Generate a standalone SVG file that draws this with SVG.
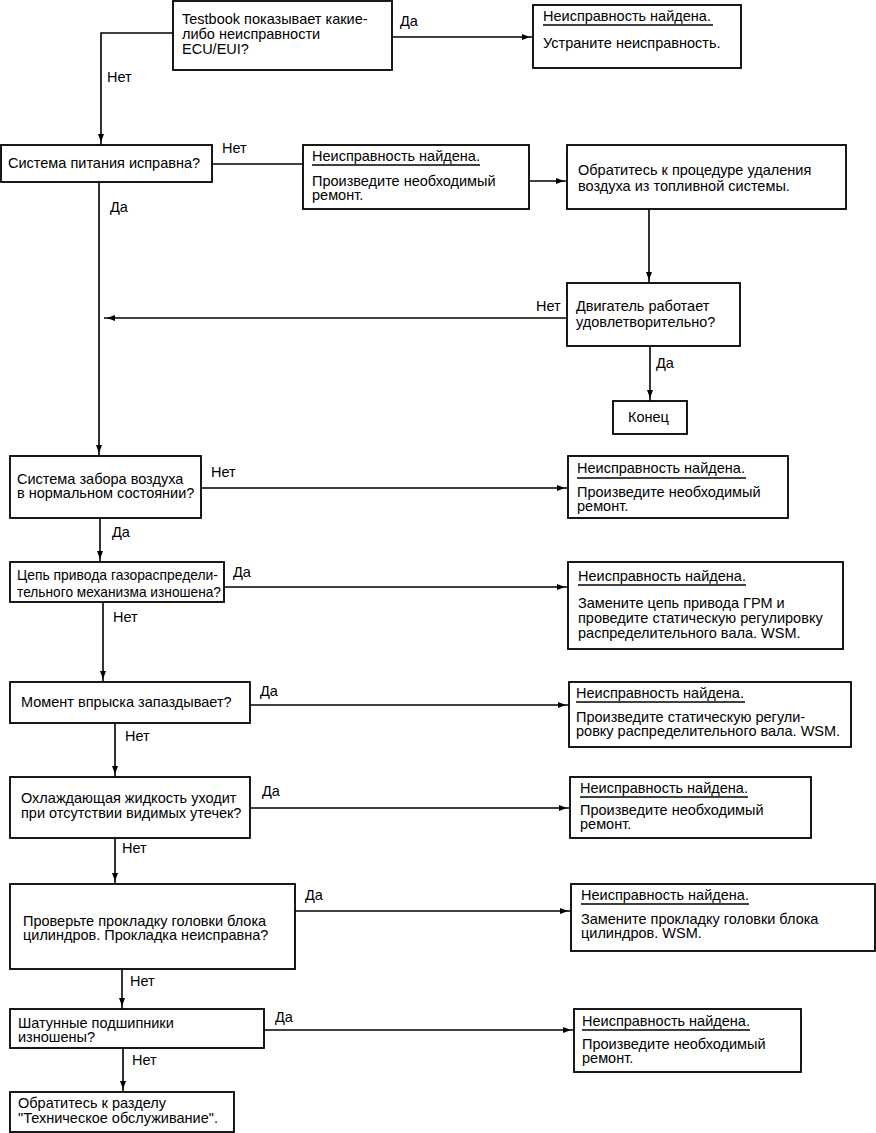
<svg xmlns="http://www.w3.org/2000/svg" width="876" height="1133" viewBox="0 0 876 1133">
<defs>
<marker id="ah" markerWidth="12" markerHeight="8" refX="11" refY="3" orient="auto" markerUnits="userSpaceOnUse">
<path d="M0,0 L8,3 L0,6 Z" fill="#000"/>
</marker>
<style>
.box{fill:#fff;stroke:#000;stroke-width:1.8}
.t{font-family:"Liberation Sans",Arial,sans-serif;font-size:14.5px;fill:#000}
.c line,.c path{stroke:#000;stroke-width:1.6;fill:none}
.u{stroke:#000;stroke-width:1.6}
</style>
</defs>
<rect width="876" height="1133" fill="#fff"/>
<g class="c" id="connectors">
<path d="M173,33 H101 V145" marker-end="url(#ah)"/>
<line x1="392" y1="37" x2="533" y2="37" marker-end="url(#ah)"/>
<line x1="212" y1="164" x2="303" y2="164"/>
<line x1="529" y1="181" x2="567" y2="181" marker-end="url(#ah)"/>
<line x1="649" y1="209" x2="649" y2="283" marker-end="url(#ah)"/>
<line x1="567" y1="318" x2="104" y2="318" marker-end="url(#ah)"/>
<line x1="650" y1="346" x2="650" y2="401" marker-end="url(#ah)"/>
<line x1="99" y1="182" x2="99" y2="456" marker-end="url(#ah)"/>
<line x1="201" y1="488" x2="568" y2="488" marker-end="url(#ah)"/>
<line x1="100" y1="518" x2="100" y2="562" marker-end="url(#ah)"/>
<line x1="224" y1="587" x2="568" y2="587" marker-end="url(#ah)"/>
<line x1="103" y1="602" x2="103" y2="682" marker-end="url(#ah)"/>
<line x1="250" y1="705" x2="569" y2="705" marker-end="url(#ah)"/>
<line x1="115" y1="723" x2="115" y2="777" marker-end="url(#ah)"/>
<line x1="250" y1="808" x2="570" y2="808" marker-end="url(#ah)"/>
<line x1="115" y1="838" x2="115" y2="884" marker-end="url(#ah)"/>
<line x1="295" y1="911" x2="571" y2="911" marker-end="url(#ah)"/>
<line x1="122" y1="969" x2="122" y2="1009" marker-end="url(#ah)"/>
<line x1="264" y1="1030" x2="574" y2="1030" marker-end="url(#ah)"/>
<line x1="123" y1="1048" x2="123" y2="1092" marker-end="url(#ah)"/>
<text class="t" x="400" y="26">Да</text>
<text class="t" x="107" y="82">Нет</text>
<text class="t" x="222" y="153">Нет</text>
<text class="t" x="110" y="212">Да</text>
<text class="t" x="536" y="311">Нет</text>
<text class="t" x="656" y="368">Да</text>
<text class="t" x="211" y="477">Нет</text>
<text class="t" x="112" y="537">Да</text>
<text class="t" x="233" y="577">Да</text>
<text class="t" x="113" y="622">Нет</text>
<text class="t" x="260" y="696">Да</text>
<text class="t" x="125" y="741">Нет</text>
<text class="t" x="262" y="796">Да</text>
<text class="t" x="122" y="853">Нет</text>
<text class="t" x="305" y="900">Да</text>
<text class="t" x="130" y="986">Нет</text>
<text class="t" x="275" y="1022">Да</text>
<text class="t" x="132" y="1065">Нет</text>
</g>
<g id="q1"><rect class="box" x="173" y="1" width="219" height="69"/>
<text class="t" x="182"><tspan x="182" y="24">Testbook показывает какие-</tspan><tspan x="182" y="39">либо неисправности</tspan><tspan x="182" y="54">ECU/EUI?</tspan></text></g>
<g id="r1"><rect class="box" x="533" y="5" width="208" height="63"/>
<text class="t" x="543" y="21">Неисправность найдена.</text><line class="u" x1="543" y1="25" x2="713" y2="25"/>
<text class="t" x="543" y="48">Устраните неисправность.</text></g>
<g id="q2"><rect class="box" x="1" y="145" width="211" height="37"/>
<text class="t" x="8" y="168">Система питания исправна?</text></g>
<g id="r2"><rect class="box" x="303" y="145" width="226" height="64"/>
<text class="t" x="312" y="161">Неисправность найдена.</text><line class="u" x1="312" y1="165" x2="480" y2="165"/>
<text class="t"><tspan x="312" y="186">Произведите необходимый</tspan><tspan x="312" y="200">ремонт.</tspan></text></g>
<g id="a2"><rect class="box" x="567" y="145" width="279" height="64"/>
<text class="t"><tspan x="578" y="175">Обратитесь к процедуре удаления</tspan><tspan x="578" y="191">воздуха из топливной системы.</tspan></text></g>
<g id="q3"><rect class="box" x="567" y="283" width="173" height="63"/>
<text class="t"><tspan x="576" y="311">Двигатель работает</tspan><tspan x="576" y="327">удовлетворительно?</tspan></text></g>
<g id="end"><rect class="box" x="613" y="401" width="74" height="33"/>
<text class="t" x="628" y="422">Конец</text></g>
<g id="q4"><rect class="box" x="10" y="456" width="191" height="62"/>
<text class="t"><tspan x="17" y="484">Система забора воздуха</tspan><tspan x="17" y="498">в нормальном состоянии?</tspan></text></g>
<g id="r4"><rect class="box" x="568" y="456" width="220" height="62"/>
<text class="t" x="577" y="473">Неисправность найдена.</text><line class="u" x1="577" y1="478" x2="746" y2="478"/>
<text class="t"><tspan x="577" y="497">Произведите необходимый</tspan><tspan x="577" y="511">ремонт.</tspan></text></g>
<g id="q5"><rect class="box" x="10" y="562" width="214" height="40"/>
<text class="t" x="17" y="580" textLength="201" lengthAdjust="spacingAndGlyphs">Цепь привода газораспредели-</text>
<text class="t" x="17" y="597" textLength="204" lengthAdjust="spacingAndGlyphs">тельного механизма изношена?</text></g>
<g id="r5"><rect class="box" x="568" y="562" width="275" height="87"/>
<text class="t" x="578" y="581">Неисправность найдена.</text><line class="u" x1="578" y1="585" x2="746" y2="585"/>
<text class="t"><tspan x="578" y="608">Замените цепь привода ГРМ и</tspan><tspan x="578" y="623">проведите статическую регулировку</tspan><tspan x="578" y="638">распределительного вала. WSM.</tspan></text></g>
<g id="q6"><rect class="box" x="10" y="682" width="240" height="41"/>
<text class="t" x="21" y="707">Момент впрыска запаздывает?</text></g>
<g id="r6"><rect class="box" x="569" y="682" width="282" height="65"/>
<text class="t" x="576" y="698">Неисправность найдена.</text><line class="u" x1="576" y1="702" x2="745" y2="702"/>
<text class="t"><tspan x="576" y="722">Произведите статическую регули-</tspan><tspan x="576" y="736">ровку распределительного вала. WSM.</tspan></text></g>
<g id="q7"><rect class="box" x="10" y="777" width="240" height="61"/>
<text class="t"><tspan x="21" y="803">Охлаждающая жидкость уходит</tspan><tspan x="21" y="818">при отсутствии видимых утечек?</tspan></text></g>
<g id="r7"><rect class="box" x="570" y="777" width="241" height="61"/>
<text class="t" x="580" y="793">Неисправность найдена.</text><line class="u" x1="580" y1="797" x2="748" y2="797"/>
<text class="t"><tspan x="580" y="815">Произведите необходимый</tspan><tspan x="580" y="829">ремонт.</tspan></text></g>
<g id="q8"><rect class="box" x="10" y="884" width="285" height="85"/>
<text class="t"><tspan x="23" y="926">Проверьте прокладку головки блока</tspan><tspan x="23" y="940">цилиндров. Прокладка неисправна?</tspan></text></g>
<g id="r8"><rect class="box" x="571" y="884" width="304" height="67"/>
<text class="t" x="581" y="900">Неисправность найдена.</text><line class="u" x1="581" y1="904" x2="749" y2="904"/>
<text class="t"><tspan x="581" y="924">Замените прокладку головки блока</tspan><tspan x="581" y="938">цилиндров. WSM.</tspan></text></g>
<g id="q9"><rect class="box" x="10" y="1009" width="254" height="39"/>
<text class="t"><tspan x="18" y="1028">Шатунные подшипники</tspan><tspan x="18" y="1042">изношены?</tspan></text></g>
<g id="r9"><rect class="box" x="574" y="1009" width="227" height="63"/>
<text class="t" x="582" y="1026">Неисправность найдена.</text><line class="u" x1="582" y1="1030" x2="750" y2="1030"/>
<text class="t"><tspan x="582" y="1049">Произведите необходимый</tspan><tspan x="582" y="1063">ремонт.</tspan></text></g>
<g id="end2"><rect class="box" x="10" y="1092" width="224" height="40"/>
<text class="t"><tspan x="18" y="1108">Обратитесь к разделу</tspan><tspan x="18" y="1123">"Техническое обслуживание".</tspan></text></g>
</svg>
